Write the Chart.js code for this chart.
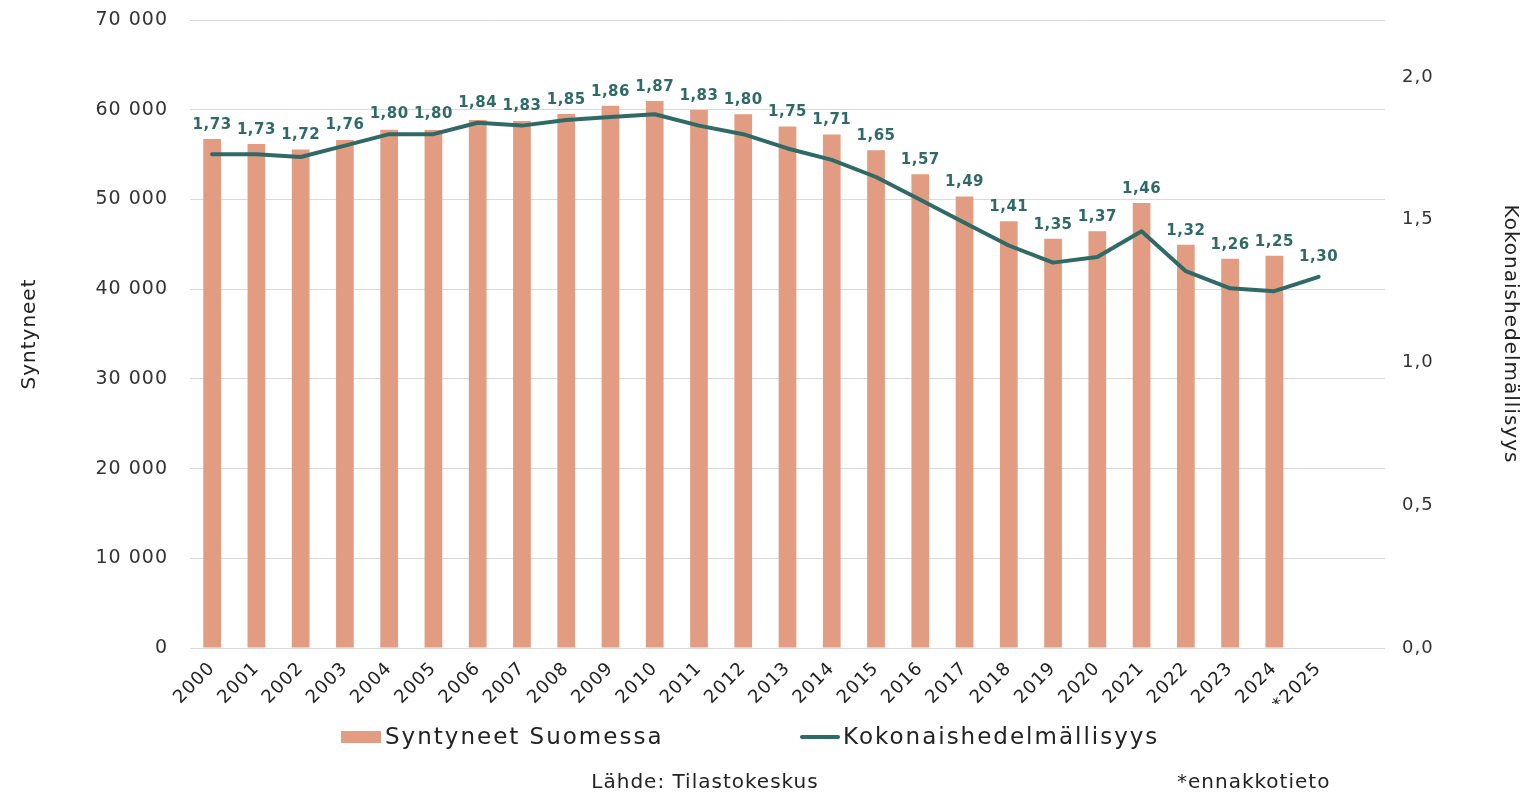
<!DOCTYPE html>
<html lang="fi">
<head>
<meta charset="utf-8">
<title>Syntyneet ja kokonaishedelmällisyys</title>
<script src="https://cdn.jsdelivr.net/npm/chart.js@4.4.1/dist/chart.umd.min.js"></script>
<style>
  html, body { margin: 0; padding: 0; background: #fff; }
  canvas { display: block; }
</style>
</head>
<body>
<canvas id="kaavio" width="1529" height="794"></canvas>
<script>
const vuodet = ['2000', '2001', '2002', '2003', '2004', '2005', '2006', '2007', '2008', '2009',
  '2010', '2011', '2012', '2013', '2014', '2015', '2016', '2017', '2018', '2019',
  '2020', '2021', '2022', '2023', '2024', '*2025', ''];

const syntyneet = [56742, 56189, 55555, 56630, 57758, 57745, 58840, 58729, 59530, 60430,
  60980, 59961, 59493, 58134, 57232, 55472, 52814, 50321, 47577, 45613,
  46463, 49594, 44951, 43383, 43720, null, null];

const hedelmallisyys = [1.73, 1.73, 1.72, 1.76, 1.80, 1.80, 1.84, 1.83, 1.85, 1.86,
  1.87, 1.83, 1.80, 1.75, 1.71, 1.65, 1.57, 1.49, 1.41, 1.35,
  1.37, 1.46, 1.32, 1.26, 1.25, 1.30, null];

const vasenAkseli = [0, 10000, 20000, 30000, 40000, 50000, 60000, 70000];
const oikeaAkseli = [0, 0.5, 1.0, 1.5, 2.0];

const lohi = '#e29c82';
const tummaVihrea = '#2f6a66';
const fontti = '"DejaVu Sans", "Noto Sans", sans-serif';
const nakymaton = 'rgba(0,0,0,0)';

function tuhannet(v) {
  return String(v).replace(/\B(?=(\d{3})+(?!\d))/g, ' ');
}

function pilkku(v, des) {
  return Number(v).toFixed(des).replace('.', ',');
}

// akselien tekstit vähän harvemmaksi (alkuperäinen fontti on leveämpi)
const harvennus = {
  id: 'harvennus',
  beforeDraw(chart) {
    if ('letterSpacing' in chart.ctx) chart.ctx.letterSpacing = '1px';
  },
  beforeDatasetsDraw(chart) {
    if ('letterSpacing' in chart.ctx) chart.ctx.letterSpacing = '0px';
  }
};

// arvot viivan yläpuolelle, pylvään yli jos se on korkeampi
const arvotekstit = {
  id: 'arvotekstit',
  afterDatasetsDraw(chart) {
    const ctx = chart.ctx;
    const pylvaat = chart.getDatasetMeta(0);
    const viiva = chart.getDatasetMeta(1);
    ctx.save();
    ctx.font = 'bold 15px ' + fontti;
    if ('letterSpacing' in ctx) ctx.letterSpacing = '0.5px';
    ctx.fillStyle = tummaVihrea;
    ctx.textAlign = 'center';
    ctx.textBaseline = 'middle';
    viiva.data.forEach((p, i) => {
      const v = hedelmallisyys[i];
      if (v == null) return;
      let y = p.y - 20;
      if (syntyneet[i] != null) y = Math.min(y, pylvaat.data[i].y - 14);
      ctx.fillText(pilkku(v, 2), p.x, y);
    });
    ctx.restore();
  }
};

// selite ja lähdetiedot alareunaan
const alaosa = {
  id: 'alaosa',
  afterDraw(chart) {
    const ctx = chart.ctx;
    ctx.save();
    ctx.textBaseline = 'middle';
    ctx.textAlign = 'left';
    ctx.font = '23px ' + fontti;
    if ('letterSpacing' in ctx) ctx.letterSpacing = '2px';

    const y = 737;
    ctx.fillStyle = lohi;
    ctx.fillRect(341, y - 6, 40, 12);
    ctx.fillStyle = '#222';
    ctx.fillText('Syntyneet Suomessa', 385, y + 1);

    ctx.strokeStyle = tummaVihrea;
    ctx.lineWidth = 4;
    ctx.lineCap = 'round';
    ctx.beginPath();
    ctx.moveTo(802, y);
    ctx.lineTo(838, y);
    ctx.stroke();
    ctx.fillText('Kokonaishedelmällisyys', 843, y + 1);

    ctx.font = '20px ' + fontti;
    if ('letterSpacing' in ctx) ctx.letterSpacing = '1px';
    ctx.textAlign = 'center';
    ctx.fillText('Lähde: Tilastokeskus', 705, 783);
    ctx.textAlign = 'left';
    ctx.fillText('*ennakkotieto', 1177, 783);
    ctx.restore();
  }
};

new Chart(document.getElementById('kaavio'), {
  data: {
    labels: vuodet,
    datasets: [
      {
        type: 'bar',
        label: 'Syntyneet Suomessa',
        data: syntyneet,
        backgroundColor: lohi,
        yAxisID: 'y',
        barPercentage: 0.4,
        categoryPercentage: 1,
        order: 2
      },
      {
        type: 'line',
        label: 'Kokonaishedelmällisyys',
        data: hedelmallisyys,
        borderColor: tummaVihrea,
        backgroundColor: tummaVihrea,
        borderWidth: 4,
        pointRadius: 0,
        tension: 0,
        borderJoinStyle: 'round',
        borderCapStyle: 'round',
        yAxisID: 'y1',
        order: 1
      }
    ]
  },
  options: {
    responsive: false,
    animation: false,
    layout: {
      padding: { top: 20, bottom: 90, left: 0, right: 0 }
    },
    plugins: {
      legend: { display: false },
      tooltip: { enabled: false }
    },
    scales: {
      x: {
        grid: { display: false },
        border: { display: false },
        ticks: {
          autoSkip: false,
          maxRotation: 45,
          minRotation: 45,
          padding: 2,
          color: '#222',
          font: { family: fontti, size: 18 }
        },
        afterFit(s) { s.height = 56; }
      },
      y: {
        position: 'left',
        min: 0,
        max: 70000,
        afterBuildTicks(s) { s.ticks = vasenAkseli.map(v => ({ value: v })); },
        ticks: {
          padding: 2,
          color: '#333',
          font: { family: fontti, size: 19 },
          callback: v => tuhannet(v)
        },
        grid: { color: '#d9d9d9', drawTicks: true, tickLength: 20, tickColor: nakymaton },
        border: { display: false },
        title: {
          display: true,
          text: 'Syntyneet',
          color: '#222',
          font: { family: fontti, size: 20 },
          padding: { top: 18, bottom: 0 }
        },
        afterFit(s) { s.width = 190; }
      },
      y1: {
        position: 'right',
        min: 0,
        max: 2.2,
        afterBuildTicks(s) { s.ticks = oikeaAkseli.map(v => ({ value: v })); },
        ticks: {
          padding: 2,
          color: '#333',
          font: { family: fontti, size: 18 },
          callback: v => pilkku(v, 1)
        },
        grid: { drawOnChartArea: false, color: nakymaton, drawTicks: true, tickLength: 15, tickColor: nakymaton },
        border: { display: false },
        title: {
          display: true,
          text: 'Kokonaishedelmällisyys',
          color: '#222',
          font: { family: fontti, size: 20 },
          padding: { top: 7, bottom: 0 }
        },
        afterFit(s) { s.width = 144; }
      }
    }
  },
  plugins: [harvennus, arvotekstit, alaosa]
});
</script>
</body>
</html>
